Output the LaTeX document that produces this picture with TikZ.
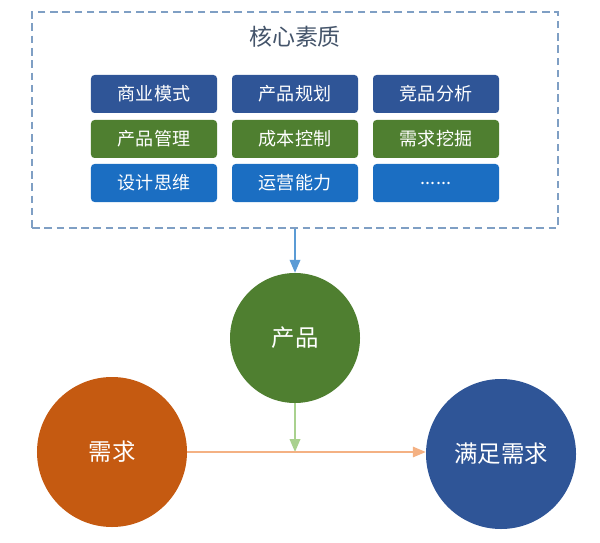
\documentclass[tikz,border=0pt]{standalone}
\usepackage{fontspec}
\setmainfont{Noto Sans CJK SC}
\usetikzlibrary{positioning,arrows.meta}

\definecolor{deepblue}{HTML}{2F5597}
\definecolor{leafgreen}{HTML}{4F7F30}
\definecolor{skyblue}{HTML}{1B6EC2}
\definecolor{rust}{HTML}{C55A11}
\definecolor{frameblue}{HTML}{7F9FC4}
\definecolor{titlegrey}{HTML}{44546A}
\definecolor{arrowblue}{HTML}{5B9BD5}
\definecolor{arrowgreen}{HTML}{A9D18E}
\definecolor{arroworange}{HTML}{F4B183}

\tikzset{
	skill/.style={rounded corners=3pt,minimum width=3.78cm,minimum height=1.14cm,
		text=white,font=\fontsize{15.4}{18}\selectfont,inner sep=0pt},
	bubble/.style={circle,text=white,inner sep=0pt,font=\fontsize{20}{24}\selectfont},
	flow/.style={line width=1.5pt,-{Triangle[length=11pt,width=9pt]}}
}

\begin{document}
\begin{tikzpicture}[x=0.03cm,y=-0.03cm]
\def\moredots{......}
\useasboundingbox (0,0) rectangle (600,543);

% dashed frame with title
\node[draw=frameblue,dash pattern=on 6.5pt off 4pt,line width=1.3pt,
	minimum width=15.78cm,minimum height=6.48cm](core) at (295,120) {};
\node[text=titlegrey,font=\fontsize{19.6}{24}\selectfont](title) at (295,37) {核心素质};

% skill boxes
\foreach \x/\y/\c/\t/\n in {154/94/deepblue/商业模式/a1,295/94/deepblue/产品规划/a2,436/94/deepblue/竞品分析/a3,
	154/139/leafgreen/产品管理/b1,295/139/leafgreen/成本控制/b2,436/139/leafgreen/需求挖掘/b3,
	154/183/skyblue/设计思维/c1,295/183/skyblue/运营能力/c2,436/183/skyblue/\moredots/c3}
	\node[skill,fill=\c](\n) at (\x,\y) {\t};

% circles
\node[bubble,fill=leafgreen,minimum size=3.9cm](prod) at (295,338) {产品};
\node[bubble,fill=rust,minimum size=4.5cm](need) at (112,452) {需求};
\node[bubble,fill=deepblue,minimum size=4.5cm](meet) at (501,454) {满足需求};
\coordinate(join) at (295,452);

% arrows
\draw[flow,arrowblue](core.south)--(prod.north);
\draw[flow,arrowgreen](prod.south)--(join);
\draw[flow,arroworange,line width=1.2pt](need.east)--(need.east-|meet.west);

\end{tikzpicture}
\end{document}
